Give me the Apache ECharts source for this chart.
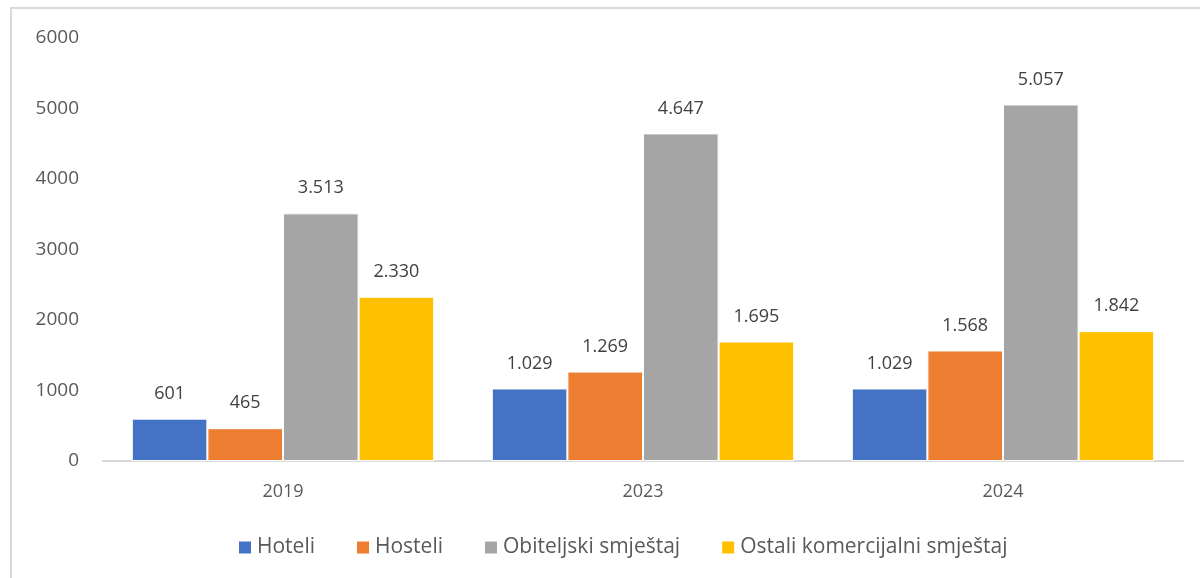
<!DOCTYPE html>
<html>
<head>
<meta charset="utf-8">
<script src="https://cdn.jsdelivr.net/npm/echarts@6/dist/echarts.min.js"></script>
<style>
  html, body { margin: 0; padding: 0; background: #fff; }
  #frame { position: absolute; left: 10px; top: 7px; width: 1200px; height: 600px; border-left: 2px solid #d9d9d9; border-top: 2px solid #d9d9d9; }
  #chart { position: absolute; left: 0; top: 0; width: 1200px; height: 578px; }
</style>
</head>
<body>
<div id="frame"></div>
<div id="chart"></div>
<script>
const years = ['2019', '2023', '2024']
const hoteli = [601, 1029, 1029]
const hosteli = [465, 1269, 1568]
const obiteljski = [3513, 4647, 5057]
const ostali = [2330, 1695, 1842]
const yTicks = [0, 1000, 2000, 3000, 4000, 5000, 6000]

const colors = ['#4472C4', '#ED7D31', '#A5A5A5', '#FFC000']
const fontFamily = '"Open Sans", "DejaVu Sans", sans-serif'

// hrvatski format: točka kao separator tisućica
const fmt = (v) => String(v).replace(/\B(?=(\d{3})+(?!\d))/g, '.')

const makeSeries = (name, data) => ({
  name,
  type: 'bar',
  data,
  barGap: 0,
  barCategoryGap: '16%',
  itemStyle: { borderColor: '#fff', borderWidth: 1 },
  label: {
    show: true,
    position: 'top',
    distance: 16,
    color: '#404040',
    fontSize: 18,
    fontFamily,
    formatter: (p) => fmt(p.value)
  }
})

const chart = echarts.init(document.getElementById('chart'))
chart.setOption({
  animation: false,
  color: colors,
  grid: { left: 103, right: 17, top: 38, bottom: 117 },
  legend: {
    bottom: 15,
    left: 232,
    itemWidth: 14,
    itemHeight: 14,
    itemGap: 40,
    icon: 'rect',
    textStyle: { color: '#595959', fontSize: 21, fontFamily }
  },
  xAxis: {
    type: 'category',
    data: years,
    axisLine: { lineStyle: { color: '#d9d9d9', width: 2 } },
    axisTick: { show: false },
    axisLabel: { color: '#595959', fontSize: 18, fontFamily, margin: 22 }
  },
  yAxis: {
    type: 'value',
    min: yTicks[0],
    max: yTicks[yTicks.length - 1],
    interval: 1000,
    axisLine: { show: false },
    axisTick: { show: false },
    splitLine: { show: false },
    axisLabel: { color: '#595959', fontSize: 19, fontFamily, margin: 24, formatter: (v) => String(v) }
  },
  series: [
    makeSeries('Hoteli', hoteli),
    makeSeries('Hosteli', hosteli),
    makeSeries('Obiteljski smještaj', obiteljski),
    makeSeries('Ostali komercijalni smještaj', ostali)
  ]
})
</script>
</body>
</html>
